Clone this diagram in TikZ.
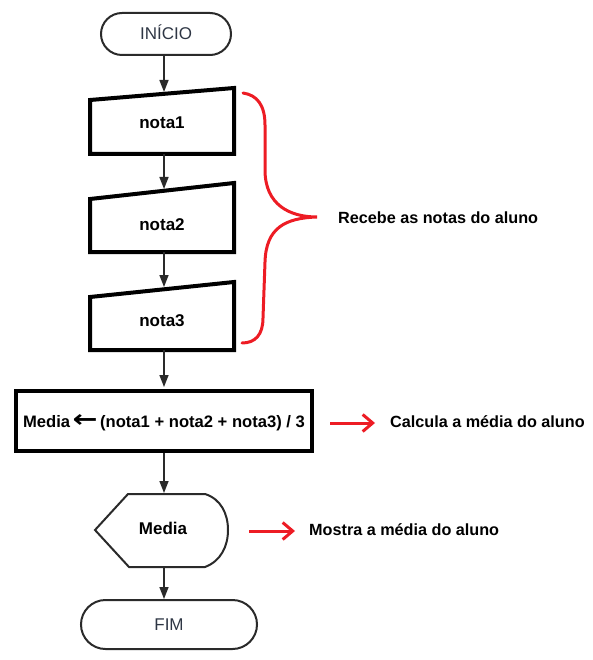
\documentclass[tikz,border=0pt]{standalone}
\usepackage{fontspec}
\setmainfont{Liberation Sans}
\newfontfamily\arrowfont{DejaVu Sans}
\usepackage{graphicx}
\usetikzlibrary{arrows.meta,shapes.misc}
\definecolor{redm}{HTML}{ED1C24}
\definecolor{termtext}{HTML}{2E3644}
\definecolor{lineg}{HTML}{2A2A2A}
\begin{document}
\begin{tikzpicture}[x=1pt,y=-1pt,
  term/.style={draw=lineg, line width=2pt, rounded rectangle, text=termtext,
    font=\fontsize{17}{20}\selectfont, inner sep=0pt, text height=12pt, text depth=0pt},
  flow/.style={draw=lineg, line width=1.5pt, -{Triangle[length=12pt,width=9pt]}},
  inbox/.style={draw=black, line width=4pt, line join=miter},
  disp/.style={draw=lineg, line width=2pt, line join=miter},
  lbl/.style={font=\bfseries\fontsize{17}{20}\selectfont, inner sep=0pt, text height=12pt, text depth=0pt},
  side/.style={font=\bfseries\fontsize{16.2}{19}\selectfont, inner sep=0pt, anchor=base west, text height=12pt, text depth=0pt},
  redarrow/.style={draw=redm, line width=3pt, -{Straight Barb[length=10pt,width=17pt]}},
  bracestyle/.style={draw=redm, line width=3pt, line cap=round}]
\useasboundingbox (0,0) rectangle (592,660);

% terminals
\node[term, minimum width=130pt, minimum height=42pt] (start) at (166,34) {INÍCIO};
\node[term, minimum width=176pt, minimum height=49pt] (fim) at (169,624.5) {FIM};

% manual input boxes
\draw[inbox] (90,100) -- (234,88) -- (234,154) -- (90,154) -- cycle;
\draw[inbox] (90,199) -- (234,183) -- (234,252) -- (90,252) -- cycle;
\draw[inbox] (90,297) -- (234,282) -- (234,350) -- (90,350) -- cycle;
\node[lbl] (n1) at (162,123) {nota1};
\node[lbl] (n2) at (162,224) {nota2};
\node[lbl] (n3) at (162,320) {nota3};
\coordinate (n1t) at (164,92);
\coordinate (n1b) at (164,154);
\coordinate (n2t) at (164,189);
\coordinate (n2b) at (164,252);
\coordinate (n3t) at (164,287);
\coordinate (n3b) at (164,350);

% process
\node[draw=black, line width=4pt, minimum width=296pt, minimum height=60pt,
  font=\bfseries\fontsize{16.6}{19}\selectfont, inner sep=0pt, text height=12pt, text depth=0pt]
  (proc) at (164,421) {Media\hspace{2.5pt}\raisebox{-0.5pt}{\scalebox{1.8}[1.45]{\arrowfont\bfseries ←}}\hspace{2.5pt}(nota1 + nota2 + nota3) / 3};

% display
\draw[disp] (95,530) -- (128,494) -- (205,494) .. controls (221,499) and (228,514) .. (228,530)
  .. controls (228,546) and (221,561) .. (205,567) -- (129,567) -- cycle;
\node[lbl] (hx) at (163,528) {Media};
\coordinate (hxt) at (164,493);
\coordinate (hxb) at (164,567);

% flow arrows
\draw[flow] (start.south -| n1t) -- (n1t);
\draw[flow] (n1b) -- (n2t);
\draw[flow] (n2b) -- (n3t);
\draw[flow, shorten >=2pt] (n3b) -- (proc.north);
\draw[flow] (proc.south) -- (hxt);
\draw[flow] (hxb) -- (hxb |- fim.north);

% annotations
\draw[bracestyle] (243,93) .. controls (257,95) and (265,105) .. (265,125) -- (265,170)
  .. controls (265,205) and (290,217) .. (317,217)
  .. controls (285,218) and (266,228) .. (265,262) -- (263,318)
  .. controls (263,335) and (255,343) .. (242,343);
\node[side] (rec) at (338,223) {Recebe as notas do aluno};

\node[side] (calc) at (390,427) {Calcula a média do aluno};
\coordinate (ca1) at (330,423);
\draw[redarrow, shorten >=15pt] (ca1) -- (ca1 -| calc.west);

\node[side] (mos) at (309,535) {Mostra a média do aluno};
\coordinate (mo1) at (249,531);
\draw[redarrow, shorten >=14pt] (mo1) -- (mo1 -| mos.west);
\end{tikzpicture}
\end{document}
